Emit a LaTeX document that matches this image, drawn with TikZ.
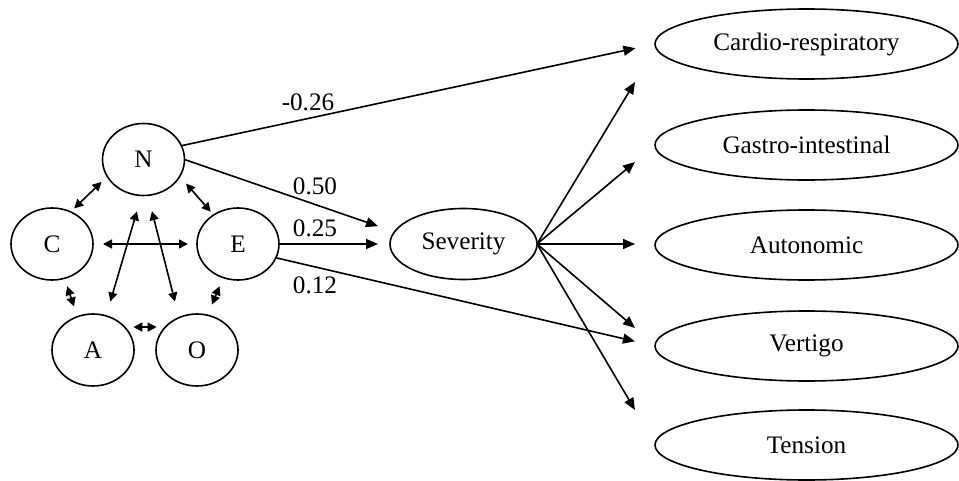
\documentclass[tikz,border=0pt]{standalone}
\usepackage{fontspec}
\setmainfont{Liberation Serif}
\usetikzlibrary{arrows, arrows.meta, shapes.geometric}

\tikzset{
  ell/.style={draw, ellipse, line width=0.8pt, inner sep=0pt, outer sep=0pt,
    font=\fontsize{12.6}{15}\selectfont},
  trait/.style={ell, minimum width=41pt, minimum height=36pt},
  fac/.style={ell, minimum width=151.5pt, minimum height=35pt},
  coef/.style={font=\fontsize{12.6}{15}\selectfont},
  load/.style={line width=0.8pt, -{Triangle[length=6pt,width=5pt]}},
  corr/.style={line width=0.8pt,
    {Triangle[length=4.5pt,width=4.5pt]}-{Triangle[length=4.5pt,width=4.5pt]}}
}

\begin{document}
\begin{tikzpicture}[x=0.5pt,y=-0.5pt]
\useasboundingbox (0,0) rectangle (959,481);

% personality traits
\node[trait] (N) at (143.5,159.5) {N};
\node[trait] (C) at (52,244) {C};
\node[trait] (E) at (238,244) {E};
\node[trait] (A) at (93,350) {A};
\node[trait] (O) at (197,350) {O};

\node[ell, minimum width=73.5pt, minimum height=35.5pt] (Sev) at (463.5,244) {Severity};

% symptom factors
\node[fac] (Cardio) at (806.5,44) {Cardio-respiratory};
\node[fac] (Gastro) at (806.5,145) {Gastro-intestinal};
\node[fac] (Auton) at (806.5,245) {Autonomic};
\node[fac] (Vert) at (806.5,346) {Vertigo};
\node[fac] (Tens) at (806.5,445) {Tension};

%%%%%%%%%%%%%%%%%%%%%%%%%%%%%%%%%%%%%%%%
% correlations between the traits
\draw[corr, shorten <=4pt, shorten >=2.5pt] (N.205) -- (C.60);
\draw[corr, shorten <=4.8pt, shorten >=2.2pt] (N.-25) -- (E.130);
\draw[corr, shorten <=5pt, shorten >=4.5pt] (C.east) -- (E.west);
\draw[corr, shorten <=8.3pt, shorten >=7.5pt] (N.267) -- (A.69);
\draw[corr, shorten <=8.2pt, shorten >=8.3pt] (N.277) -- (O.119);
\draw[corr, shorten <=4.2pt, shorten >=5.4pt] (C.290) -- (A.115);
\draw[corr, shorten <=4.7pt, shorten >=5.8pt] (E.246) -- (O.73);
\draw[corr, shorten <=4.4pt, shorten >=4.4pt] (A.36) -- (O.144);

%%%%%%%%%%%%%%%%%%%%%%%%%%%%%%%%%%%%%%%%
% paths with coefficients
\draw[load, shorten >=10pt] (N.20) -- (Cardio.west);
\draw[load, shorten >=8.7pt] (N.east) -- (Sev.170);
\draw[load, shorten >=6pt] (E.east) -- (E.east -| Sev.west);
\draw[load, shorten >=10.3pt] (E.-20) -- (Vert.west);

\node[coef] (bNcr) at (308,102.5) {-0.26};
\node[coef] (bNsev) at (315,186) {0.50};
\node[coef] (bEsev) at (315,228.5) {0.25};
\node[coef] (bEve) at (315,285) {0.12};

% severity loadings
\coordinate (toCR) at (635,82);
\coordinate (toGI) at (635,162);
\coordinate (toAU) at (635,244);
\coordinate (toVE) at (635,328);
\coordinate (toTE) at (635,410);

\draw[load] (Sev.east) -- (toCR);
\draw[load] (Sev.east) -- (toGI);
\draw[load] (Sev.east) -- (toAU);
\draw[load] (Sev.east) -- (toVE);
\draw[load] (Sev.east) -- (toTE);

\end{tikzpicture}
\end{document}
